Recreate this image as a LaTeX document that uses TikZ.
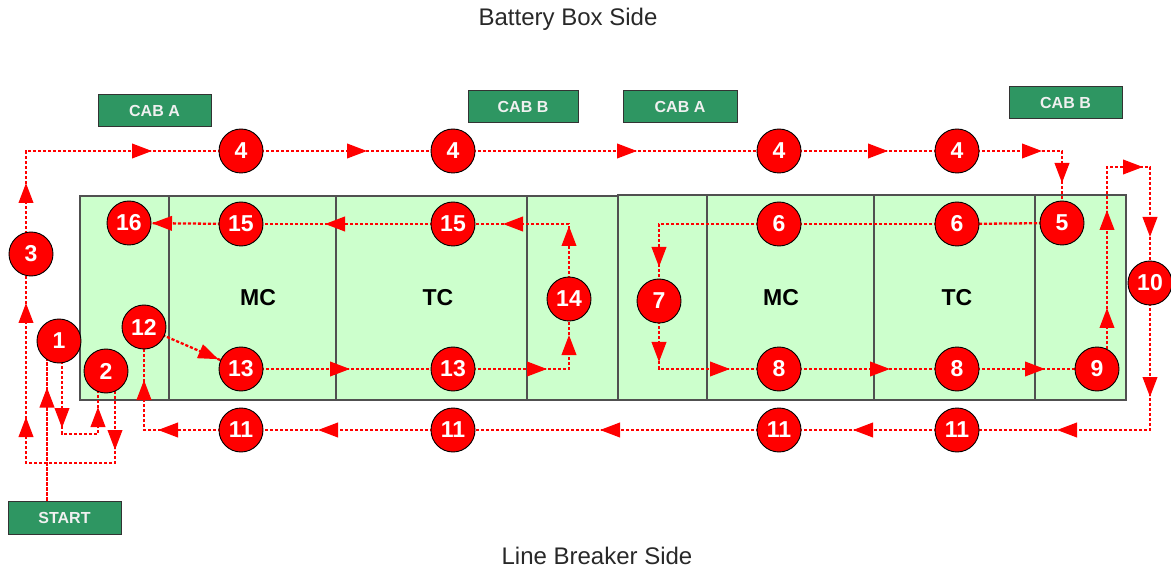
\documentclass[tikz,border=0pt]{standalone}
\usepackage{fontspec}
\setmainfont{Liberation Sans}
\usetikzlibrary{arrows.meta,decorations.markings}
\pgfdeclarelayer{back}
\pgfdeclarelayer{mid}
\pgfsetlayers{back,mid,main}
\definecolor{cabgreen}{RGB}{46,150,98}
\definecolor{carfill}{RGB}{204,255,204}
\definecolor{titlegray}{RGB}{40,40,40}
\definecolor{edgegray}{RGB}{80,80,80}
\begin{document}
\begin{tikzpicture}[x=1pt,y=-1pt,
  num/.style={circle,fill=red,draw=black,line width=0.9pt,minimum size=44pt,inner sep=0pt,text=white,font=\fontsize{23}{23}\selectfont\bfseries},
  cab/.style={draw=black!80,fill=cabgreen,line width=1pt,minimum height=32pt,inner sep=0pt,text=white!88!gray,font=\fontsize{16}{16}\selectfont\bfseries},
  car/.style={fill=carfill,draw=edgegray,line width=1.2pt},
  div/.style={draw=edgegray,line width=1.2pt},
  lbl/.style={font=\fontsize{23}{23}\selectfont\bfseries,text=black},
  title/.style={font=\fontsize{24}{24}\selectfont,text=titlegray},
  flow/.style={draw=red,line width=2.3pt,dash pattern=on 3.2pt off 1.8pt},
  ar/.style={postaction={decorate,decoration={markings,mark=at position #1 with {\arrow{Triangle[length=20pt,width=14.5pt]}}}}}]
\useasboundingbox (0,0) rectangle (1171,572);

% titles
\node[title] (top) at (568,19) {Battery Box Side};
\node[title] (bot) at (597,556) {Line Breaker Side};

% car bodies
\begin{pgfonlayer}{back}
\path[car] (80,196) rectangle (618,400);
\path[car] (618,195) rectangle (1126,400);
\foreach \x in {169,336,527,707,874,1035} \draw[div] (\x,196) -- (\x,400);
\end{pgfonlayer}
\node[lbl] (mc1) at (258,298) {MC};
\node[lbl] (tc1) at (438,298) {TC};
\node[lbl] (mc2) at (781,298) {MC};
\node[lbl] (tc2) at (957,298) {TC};

% cab boxes
\node[cab,minimum width=113pt] (cabA1) at (154.5,111) {CAB A};
\node[cab,minimum width=110pt] (cabB1) at (523,107) {CAB B};
\node[cab,minimum width=114pt] (cabA2) at (680,107) {CAB A};
\node[cab,minimum width=113pt] (cabB2) at (1065.5,103) {CAB B};
\node[cab,minimum width=113pt,minimum height=33pt] (start) at (64.5,517.5) {START};

% numbered circles
\node[num] (c1) at (59,341) {1};
\node[num] (c2) at (106,371) {2};
\node[num] (c3) at (31,254) {3};
\node[num] (c4a) at (241,151) {4};
\node[num] (c4b) at (453,151) {4};
\node[num] (c4c) at (779,151) {4};
\node[num] (c4d) at (957,151) {4};
\node[num] (c5) at (1062,223) {5};
\node[num] (c6a) at (779,224) {6};
\node[num] (c6b) at (957,224) {6};
\node[num] (c7) at (659,301) {7};
\node[num] (c8a) at (779,369) {8};
\node[num] (c8b) at (957,369) {8};
\node[num] (c9) at (1097,369) {9};
\node[num] (c10) at (1150,283) {10};
\node[num] (c11a) at (241,430) {11};
\node[num] (c11b) at (453,430) {11};
\node[num] (c11c) at (779,430) {11};
\node[num] (c11d) at (957,430) {11};
\node[num] (c12) at (144,327) {12};
\node[num] (c13a) at (241,369) {13};
\node[num] (c13b) at (453,369) {13};
\node[num] (c14) at (569,299) {14};
\node[num] (c15a) at (241,224) {15};
\node[num] (c15b) at (453,224) {15};
\node[num] (c16) at (129,223) {16};

% corner coordinates
\coordinate (s1) at (47,341);
\coordinate (p1) at (62,434);
\coordinate (p2) at (98,434);
\coordinate (p3) at (115,463);
\coordinate (p4) at (26,463);
\coordinate (p5) at (26,151);
\coordinate (p6) at (1062,151);
\coordinate (p7) at (659,224);
\coordinate (p8) at (659,369);
\coordinate (p9) at (1107,167);
\coordinate (p10) at (1150,167);
\coordinate (p11) at (1150,430);
\coordinate (p12) at (144,430);
\coordinate (p13) at (569,369);
\coordinate (p14) at (569,224);

\begin{pgfonlayer}{mid}
\draw[flow,ar=113pt] (start.north -| s1) -- (s1);
\draw[flow,ar=87pt,ar=156pt] (c1.center -| p1) -- (p1) -- (p2) -- (c2.center -| p2);
\draw[flow,ar=79pt,ar=227pt,ar=341pt] (c2.center -| p3) -- (p3) -- (p4) -- (c3.center -| p4);
\draw[flow,ar=71pt,ar=229pt] (c3.center -| p5) -- (p5) -- (c4a.center);
\draw[flow,ar=126pt] (c4a.center) -- (c4b.center);
\draw[flow,ar=184pt] (c4b.center) -- (c4c.center);
\draw[flow,ar=109pt] (c4c.center) -- (c4d.center);
\draw[flow,ar=85pt,ar=137pt] (c4d.center) -- (p6) -- (c5.center);
\draw[flow] (c5.center) -- (c6b.center);
\draw[flow] (c6b.center) -- (c6a.center);
\draw[flow,ar=163pt] (c6a.center) -- (p7) -- (c7.center);
\draw[flow,ar=61pt,ar=139pt] (c7.center) -- (p8) -- (c8a.center);
\draw[flow,ar=111pt] (c8a.center) -- (c8b.center);
\draw[flow,ar=88pt] (c8b.center) -- (c9.center);
\draw[flow,ar=61pt,ar=159pt,ar=238pt,ar=315pt] (c9.center -| p9) -- (p9) -- (p10) -- (c10.center);
\draw[flow,ar=114pt,ar=240pt] (c10.center) -- (p11) -- (c11d.center);
\draw[flow,ar=104pt] (c11d.center) -- (c11c.center);
\draw[flow,ar=179pt] (c11c.center) -- (c11b.center);
\draw[flow,ar=135pt] (c11b.center) -- (c11a.center);
\draw[flow,ar=83pt,ar=147pt] (c11a.center) -- (p12) -- (c12.center);
\draw[flow,ar=81pt] (c12.center) -- (c13a.center);
\draw[flow,ar=109pt] (c13a.center) -- (c13b.center);
\draw[flow,ar=94pt,ar=150pt] (c13b.center) -- (p13) -- (c14.center);
\draw[flow,ar=73pt,ar=141pt] (c14.center) -- (p14) -- (c15b.center);
\draw[flow,ar=128pt] (c15b.center) -- (c15a.center);
\draw[flow,ar=89pt] (c15a.center) -- (c16.center);
\end{pgfonlayer}
\end{tikzpicture}
\end{document}
